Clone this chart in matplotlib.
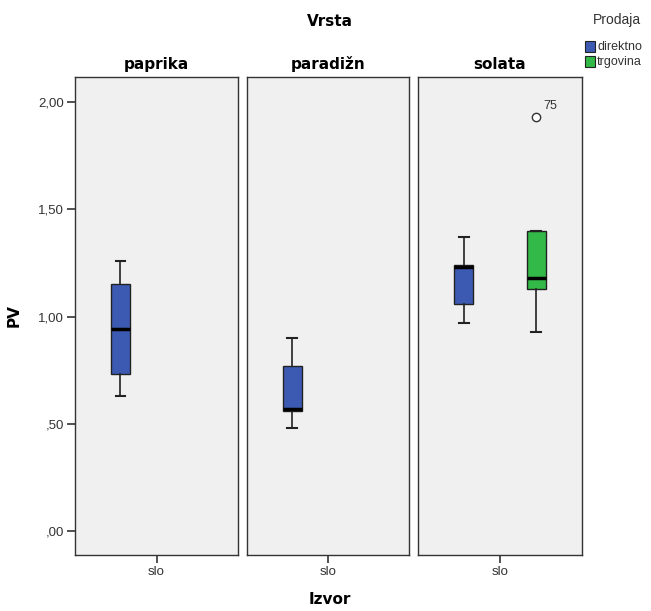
import matplotlib
matplotlib.use("Agg")
import matplotlib.pyplot as plt
from matplotlib.patches import Rectangle

# Facets (Vrsta) and groups (Prodaja)
facets = ["paprika", "paradižn", "solata"]
groups = ["direktno", "trgovina"]
group_colors = {"direktno": "#3D5AB3", "trgovina": "#33B947"}

# Five-number summaries of PV per facet and group: (whislo, q1, med, q3, whishi)
paprika_direktno = [0.63, 0.73, 0.94, 1.15, 1.26]
paradizn_direktno = [0.48, 0.56, 0.57, 0.77, 0.90]
solata_direktno = [0.97, 1.06, 1.23, 1.24, 1.37]
solata_trgovina = [0.93, 1.13, 1.18, 1.40, 1.40]
solata_trgovina_outliers = [1.93]
solata_trgovina_outlier_ids = ["75"]

panels = {
    "paprika": {"direktno": (paprika_direktno, [], [])},
    "paradižn": {"direktno": (paradizn_direktno, [], [])},
    "solata": {"direktno": (solata_direktno, [], []),
               "trgovina": (solata_trgovina, solata_trgovina_outliers,
                            solata_trgovina_outlier_ids)},
}

y_ticks = [0.0, 0.5, 1.0, 1.5, 2.0]
y_tick_labels = [",00", ",50", "1,00", "1,50", "2,00"]
x_label_cat = "slo"

W, H = 651, 611
fig = plt.figure(figsize=(W / 100, H / 100), dpi=100)
fig.patch.set_facecolor("white")

panel_px = [(75, 238), (247, 409), (418, 582)]
top_px, bot_px = 77, 555
offsets = {"direktno": -0.221, "trgovina": 0.221}

tick_font = dict(family=["Liberation Sans", "DejaVu Sans"], size=9.5, color="#333333")
title_font = dict(family=["DejaVu Sans"], size=11, weight="bold")

axes = []
for i, (name, (x0, x1)) in enumerate(zip(facets, panel_px)):
    ax = fig.add_axes([x0 / W, 1 - bot_px / H, (x1 - x0) / W, (bot_px - top_px) / H])
    ax.set_facecolor("#F0F0F0")
    ax.set_xlim(0, 1)
    ax.set_ylim(-0.112, 2.117)
    for s in ax.spines.values():
        s.set_color("#333333")
        s.set_linewidth(1.0)
    for grp, (st, fl, ids) in panels[name].items():
        stats = [dict(whislo=st[0], q1=st[1], med=st[2], q3=st[3], whishi=st[4],
                      fliers=fl)]
        pos = 0.5 + offsets[grp]
        ax.bxp(stats, positions=[pos], widths=0.115, capwidths=0.06,
               patch_artist=True, showfliers=True,
               boxprops=dict(facecolor=group_colors[grp], edgecolor="#222222",
                             linewidth=1.0),
               medianprops=dict(color="black", linewidth=2.5, solid_capstyle="butt"),
               whiskerprops=dict(color="#222222", linewidth=1.2),
               capprops=dict(color="#222222", linewidth=1.5),
               flierprops=dict(marker="o", markerfacecolor="white",
                               markeredgecolor="#333333", markersize=6,
                               markeredgewidth=1.0))
        for v, lab in zip(fl, ids):
            ax.annotate(lab, (pos, v), xytext=(5, 6), textcoords="offset points",
                        fontsize=9, family=["Liberation Sans"], color="#333333")
    ax.set_xticks([0.5])
    ax.set_xticklabels([x_label_cat], **tick_font)
    ax.tick_params(axis="x", length=6, width=1.2, color="#333333", pad=2)
    if i == 0:
        ax.set_yticks(y_ticks)
        ax.set_yticklabels(y_tick_labels, **tick_font)
        ax.tick_params(axis="y", length=6, width=1.2, color="#333333", pad=2)
    else:
        ax.set_yticks([])
    ax.set_title(name, pad=6, **title_font)
    axes.append(ax)

axes[0].set_ylabel("PV", labelpad=12, **title_font)

fig.text(330 / W, 1 - 22 / H, "Vrsta", ha="center", va="center", **title_font)
fig.text(330 / W, 1 - 600 / H, "Izvor", ha="center", va="center", **title_font)

# Legend for Prodaja
fig.text(617 / W, 1 - 20 / H, "Prodaja", ha="center", va="center",
         family=["Liberation Sans"], size=10, color="#333333")
for k, grp in enumerate(groups):
    yc = 47 + k * 15
    fig.patches.append(Rectangle((585 / W, 1 - (yc + 5) / H), 10 / W, 11 / H,
                                 transform=fig.transFigure,
                                 facecolor=group_colors[grp], edgecolor="#222222",
                                 linewidth=0.8))
    fig.text(597 / W, 1 - yc / H, grp, ha="left", va="center",
             family=["Liberation Sans"], size=9, color="#333333")

fig.savefig("out.png", dpi=100)
